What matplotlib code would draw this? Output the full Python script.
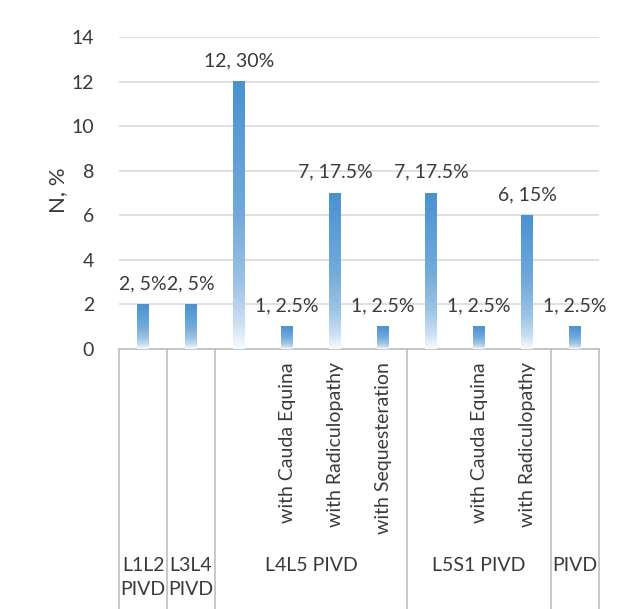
import numpy as np
import matplotlib
matplotlib.use("Agg")
import matplotlib.pyplot as plt
from matplotlib.colors import to_rgb

plt.rcParams['font.family'] = ['Lato', 'DejaVu Sans']

# Data
groups = ["L1L2\nPIVD", "L3L4\nPIVD", "L4L5 PIVD", "L5S1 PIVD", "PIVD"]
group_sizes = [1, 1, 4, 3, 1]
subcategories = ["", "", "", "with Cauda Equina", "with Radiculopathy",
                 "with Sequesteration", "", "with Cauda Equina",
                 "with Radiculopathy", ""]
counts = [2, 2, 12, 1, 7, 1, 7, 1, 6, 1]
percents = [5, 5, 30, 2.5, 17.5, 2.5, 17.5, 2.5, 15, 2.5]
yticks = [0, 2, 4, 6, 8, 10, 12, 14]

W, H = 625, 609
fig = plt.figure(figsize=(W / 100, H / 100), dpi=100)
ax = fig.add_axes([119 / W, 1 - 349 / H, 480 / W, 312 / H])

n = len(counts)
x = np.arange(n)
bar_w = 0.25

# vertical gradient: saturated blue at the top fading to white at the base
top_rgb = np.array(to_rgb("#4a92d1"))
white = np.ones(3)
fprof = np.array([0.0, 0.1, 0.25, 0.5, 1.0])
gprof = np.array([0.03, 0.3, 0.55, 0.78, 1.0])
ff = np.linspace(0, 1, 256)
g = np.interp(ff, fprof, gprof)
grad = white[None, :] + (top_rgb - white)[None, :] * g[:, None]
grad_img = grad[:, None, :]

text_col = "#3a3a3a"
for xi, v, p in zip(x, counts, percents):
    ax.imshow(grad_img, extent=[xi - bar_w / 2, xi + bar_w / 2, 0, v],
              origin="lower", aspect="auto", zorder=3, interpolation="bilinear")
    ax.text(xi, v + 0.55, f"{v}, {p:g}%", ha="center", va="bottom",
            fontsize=14, color=text_col, zorder=4)

ax.set_aspect("auto")
ax.set_xlim(-0.5, n - 0.5)
ax.set_ylim(0, 14)

ax.set_yticks(yticks)
ax.set_yticklabels([str(t) for t in yticks], fontsize=14, color=text_col)
ax.tick_params(axis="y", length=0, pad=18)
ax.set_xticks([])
ax.grid(axis="y", color="#d9d9d9", linewidth=1.2, zorder=0)
ax.set_axisbelow(True)
for s in ["top", "right", "left"]:
    ax.spines[s].set_visible(False)
ax.spines["bottom"].set_color("#bfbfbf")
ax.spines["bottom"].set_linewidth(1.2)

ax.set_ylabel("N, %", fontsize=16, color=text_col)
ax.yaxis.set_label_coords((58 - 119) / 480, (349 - 190) / 312)
ax.yaxis.label.set_va("center")

# Two-level category axis
trans = ax.get_xaxis_transform()
px = 1 / 312.0
sep_bottom = -(612 - 349) * px
edges = np.concatenate([[0], np.cumsum(group_sizes)]) - 0.5
for e in edges:
    ax.plot([e, e], [0, sep_bottom], transform=trans, color="#bfbfbf",
            linewidth=1.2, clip_on=False, zorder=1)

for xi, lab in zip(x, subcategories):
    if lab:
        ax.text(xi, -(362 - 349) * px, lab, transform=trans, rotation=90,
                ha="center", va="top", fontsize=14, color=text_col)

for gi, lab in enumerate(groups):
    cx = (edges[gi] + edges[gi + 1]) / 2
    ax.text(cx, -(557 - 349) * px, lab, transform=trans, ha="center",
            va="top", fontsize=14, color=text_col, linespacing=1.5)

fig.savefig("out.png", dpi=100)
